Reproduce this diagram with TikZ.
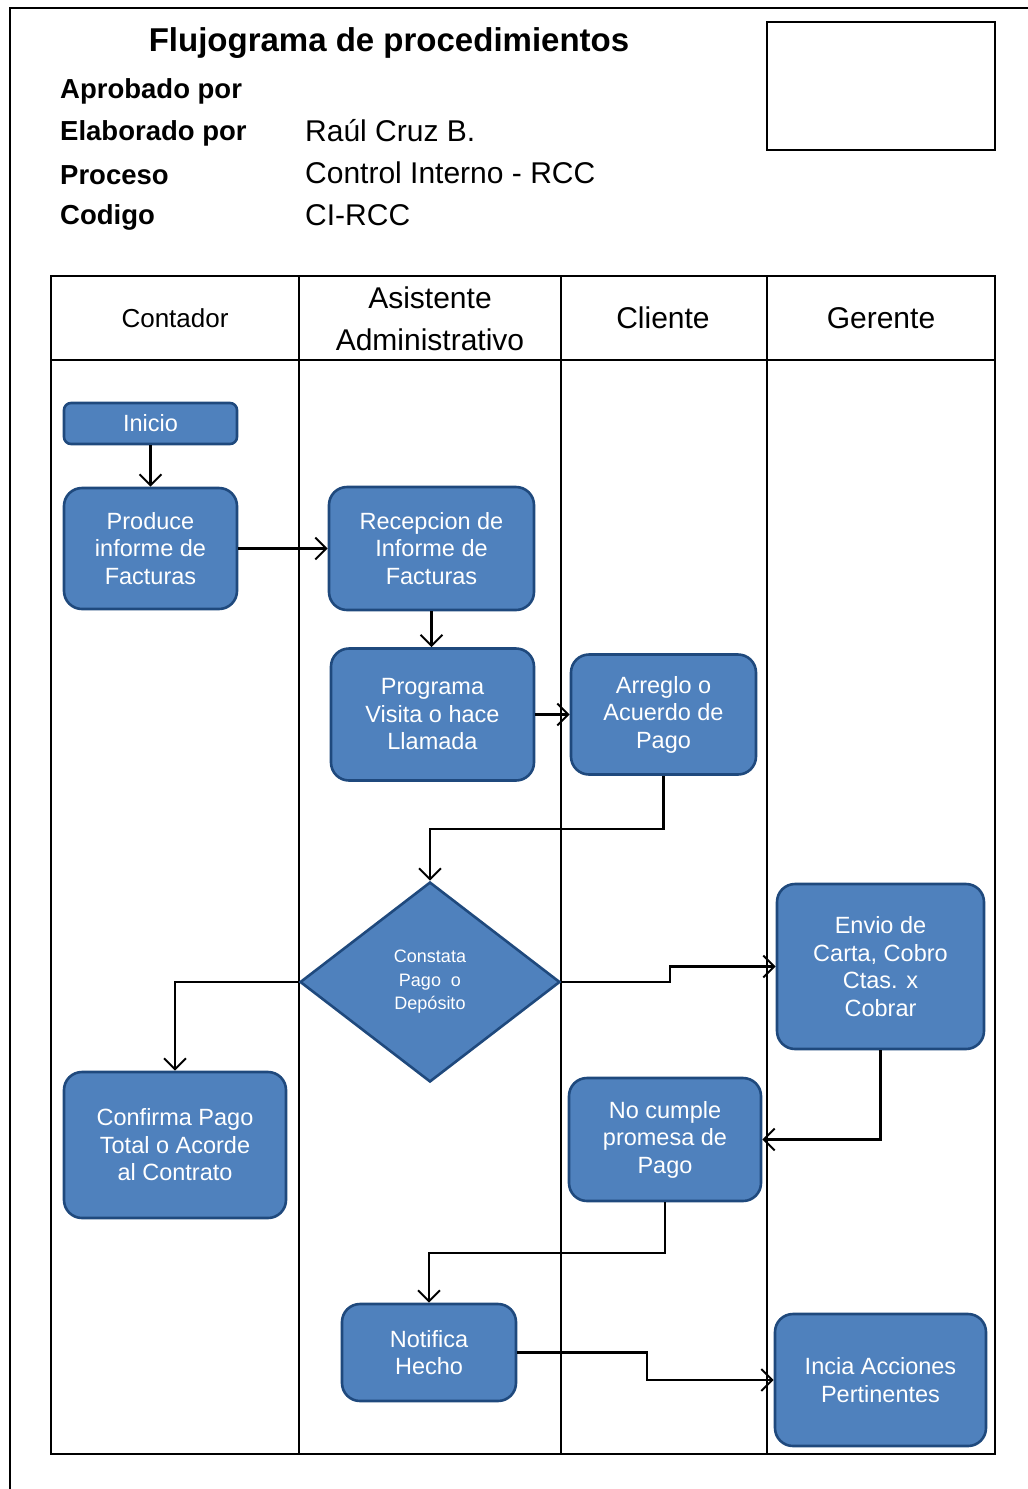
\documentclass[tikz,border=0pt]{standalone}
\usepackage{fontspec}
\setmainfont{Liberation Sans}
\usetikzlibrary{arrows.meta,shapes.geometric}
\definecolor{boxfill}{HTML}{4F81BD}
\definecolor{boxline}{HTML}{1F497D}
\begin{document}
\begin{tikzpicture}[x=1pt,y=-1pt,
  proc/.style={draw=boxline, fill=boxfill, line width=2.6pt, rounded corners=18pt,
    text=white, align=center, inner sep=0pt,
    font=\fontsize{23.5}{27.5}\selectfont},
  decision/.style={diamond, draw=boxline, fill=boxfill, line width=2.6pt,
    text=white, align=center, inner sep=0pt,
    font=\fontsize{18}{23.5}\selectfont},
  flow/.style={draw=black, line width=2.2pt,
    -{Straight Barb[length=11pt,width=22pt,line width=2pt]}},
  grid/.style={draw=black, line width=2pt},
  lbl/.style={anchor=west, inner sep=0pt, font=\fontsize{27.5}{31}\selectfont\bfseries},
  val/.style={anchor=west, inner sep=0pt, font=\fontsize{30}{34}\selectfont},
  lane/.style={inner sep=0pt, align=center, font=\fontsize{30}{42}\selectfont}]

\useasboundingbox (0,0) rectangle (1028,1489);

% page frame
\draw[line width=2pt] (1028,8) -- (10,8) -- (10,1489);

% heading block
\node[inner sep=0pt, font=\fontsize{33}{37}\selectfont\bfseries] (title) at (389,43) {Flujograma de procedimientos};
\node[lbl] (l1) at (60,91) {Aprobado por};
\node[lbl] (l2) at (60,133) {Elaborado por};
\node[lbl] (l3) at (60,175) {Proceso};
\node[lbl] (l4) at (60,217) {Codigo};
\node[val] (v2) at (305,131) {Raúl Cruz B.};
\node[val] (v3) at (305,173) {Control Interno - RCC};
\node[val] (v4) at (305,215) {CI-RCC};
\draw[grid] (767,22) rectangle (995,150);

% swimlane table
\draw[grid] (51,276) rectangle (995,1454);
\draw[grid] (51,360) -- (995,360);
\foreach \xx in {299,561,767} \draw[grid] (\xx,276) -- (\xx,1454);
\node[lane, font=\fontsize{26}{30}\selectfont] (h1) at (175,318) {Contador};
\node[lane] (h2) at (430,319) {Asistente\\Administrativo};
\node[lane] (h3) at (663,318) {Cliente};
\node[lane] (h4) at (881,318) {Gerente};

% process steps
\node[proc, rounded corners=7pt, minimum width=173pt, minimum height=41pt] (inicio) at (150.5,423.5) {Inicio};
\node[proc, minimum width=173pt, minimum height=121pt] (produce) at (150.5,548.5) {Produce\\informe de\\Facturas};
\node[proc, minimum width=205pt, minimum height=123pt] (recep) at (431.5,548.5) {Recepcion de\\Informe de\\Facturas};
\node[proc, minimum width=203pt, minimum height=132pt] (prog) at (432.5,714.5) {Programa\\Visita o hace\\Llamada};
\node[proc, minimum width=185pt, minimum height=120pt] (arreglo) at (663.5,714.5) {Arreglo o\\Acuerdo de\\Pago};
\node[decision, minimum width=260pt, minimum height=200pt] (dec) at (430,982) {Constata\\Pago\ \ o\\Depósito};
\node[proc, minimum width=207pt, minimum height=165pt] (envio) at (880.5,966.5) {Envio de\\Carta, Cobro\\Ctas. x\\Cobrar};
\node[proc, minimum width=222pt, minimum height=146pt] (conf) at (175,1145) {Confirma Pago\\Total o Acorde\\al Contrato};
\node[proc, minimum width=192pt, minimum height=123pt] (nocum) at (665,1139.5) {No cumple\\promesa de\\Pago};
\node[proc, minimum width=174pt, minimum height=97pt] (notif) at (429,1352.5) {Notifica\\Hecho};
\node[proc, minimum width=211pt, minimum height=132pt] (incia) at (880.5,1380) {Incia Acciones\\Pertinentes};

% bend points of the connectors
\coordinate (j1) at (430,829);
\coordinate (j2) at (670,966.5);
\coordinate (j3) at (430,1253);
\coordinate (j4) at (647,1380);

% connectors
\draw[flow] (inicio) -- (produce);
\draw[flow] (produce.east) -- (recep.west);
\draw[flow] (recep.south) -- (recep.south |- prog.north);
\draw[flow] (prog.east) -- (arreglo.west);
\draw[flow] (arreglo.south) -- (arreglo.south |- j1) -| (dec.north);
\draw[flow] (dec.west) -| (conf.north);
\draw[flow] (dec.east) -| (j2) -- (envio.west);
\draw[flow] (envio.south) |- (nocum.east);
\draw[flow] (nocum.south) -- (nocum.south |- j3) -| (notif.north);
\draw[flow] (notif.east) -| (j4) -- (incia.west);
\end{tikzpicture}
\end{document}
